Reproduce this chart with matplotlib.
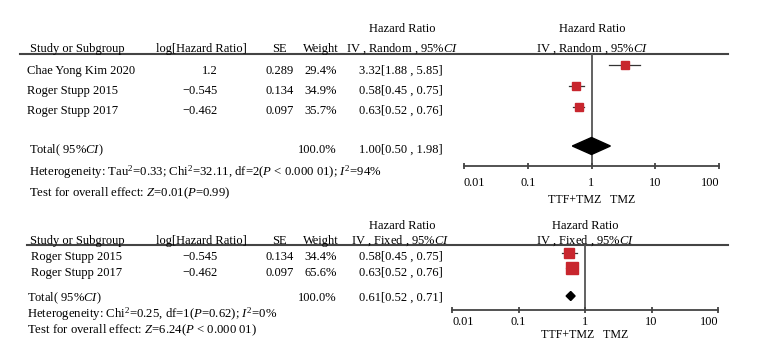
import matplotlib
matplotlib.use('Agg')
import matplotlib.pyplot as plt
import numpy as np

plt.rcParams.update({'font.family': 'Liberation Serif', 'font.size': 9,
                     'mathtext.fontset': 'custom',
                     'mathtext.rm': 'Liberation Serif',
                     'mathtext.it': 'Liberation Serif:italic',
                     'mathtext.bf': 'Liberation Serif:bold'})

# --- random effects meta-analysis (top) ---
rand_studies = ['Chae Yong Kim 2020', 'Roger Stupp 2015', 'Roger Stupp 2017']
rand_log_hr = [1.2, -0.545, -0.462]
rand_se = [0.289, 0.134, 0.097]
rand_weight = [29.4, 34.9, 35.7]
rand_hr = [3.32, 0.58, 0.63]
rand_lo = [1.88, 0.45, 0.52]
rand_hi = [5.85, 0.75, 0.76]
rand_total = [1.00, 0.50, 1.98]   # est, lo, hi
rand_het = 'Heterogeneity: Tau$^2$=0.33; Chi$^2$=32.11, df=2($P$ < 0.000 01); $I^2$=94%'
rand_test = 'Test for overall effect: $Z$=0.01($P$=0.99)'

# --- fixed effects meta-analysis (bottom) ---
fix_studies = ['Roger Stupp 2015', 'Roger Stupp 2017']
fix_log_hr = [-0.545, -0.462]
fix_se = [0.134, 0.097]
fix_weight = [34.4, 65.6]
fix_hr = [0.58, 0.63]
fix_lo = [0.45, 0.52]
fix_hi = [0.75, 0.76]
fix_total = [0.61, 0.52, 0.71]
fix_het = 'Heterogeneity: Chi$^2$=0.25, df=1($P$=0.62); $I^2$=0%'
fix_test = 'Test for overall effect: $Z$=6.24($P$ < 0.000 01)'

tick_vals = [0.01, 0.1, 1, 10, 100]
tick_labels = ['0.01', '0.1', '1', '10', '100']

W, H = 758, 348
RED = '#c8262e'
LINE = '#444444'

fig = plt.figure(figsize=(W / 100, H / 100), dpi=100)
# full-figure axes in pixel coords, used for the table text
tx = fig.add_axes([0, 0, 1, 1])
tx.set_xlim(0, W)
tx.set_ylim(H, 0)
tx.axis('off')


def fmt_ci(est, lo, hi):
    return f'{est:.2f}[{lo:.2f} , {hi:.2f}]'


def minus(v):
    return f'{v:g}'.replace('-', '\u2212')


def draw_panel(studies, log_hr, se, weight, hr, lo, hi, total, het, test, method,
               L):
    hs = 9  # header font size
    ci_head = f'IV , {method} , 95%$CI$'
    tx.text(402, L['hr_y'], 'Hazard Ratio', ha='center', va='center', fontsize=hs)
    tx.text(30, L['head_y'], 'Study or Subgroup', ha='left', va='center', fontsize=hs)
    tx.text(201, L['head_y'], 'log[Hazard Ratio]', ha='center', va='center', fontsize=hs)
    tx.text(279, L['head_y'], 'SE', ha='center', va='center', fontsize=hs)
    tx.text(321, L['head_y'], 'Weight', ha='center', va='center', fontsize=hs)
    tx.text(L['ci_head_x'], L['head_y'], ci_head, ha='center', va='center', fontsize=hs)
    tx.text(L['vx'], L['hr_y'], 'Hazard Ratio', ha='center', va='center', fontsize=hs)
    tx.text(L['vx'], L['head_y'], ci_head, ha='center', va='center', fontsize=hs)
    tx.plot([L['line_x0'], 728], [L['line_y'], L['line_y']], color=LINE, lw=1.5)

    # study rows
    for i, name in enumerate(studies):
        y = L['rows'][i]
        tx.text(L['name_x'], y, name, ha='left', va='center')
        tx.text(218, y, minus(log_hr[i]), ha='right', va='center')
        tx.text(294, y, f'{se[i]:.3f}', ha='right', va='center')
        tx.text(337, y, f'{weight[i]:.1f}%', ha='right', va='center')
        tx.text(443, y, fmt_ci(hr[i], lo[i], hi[i]), ha='right', va='center')

    tx.text(L['tot_x'], L['tot_y'], 'Total( 95%$CI$)', ha='left', va='center')
    tx.text(337, L['tot_y'], f'{sum(weight):.1f}%', ha='right', va='center')
    tx.text(443, L['tot_y'], fmt_ci(*total), ha='right', va='center')
    tx.text(L['tot_x'], L['het_y'], het, ha='left', va='center', fontsize=9.2)
    tx.text(L['tot_x'], L['test_y'], test, ha='left', va='center', fontsize=9.2)

    # forest plot axes, x on log scale, y in pixel rows
    x0, x1 = L['ax_x']
    y0, y1 = L['ax_y']
    ax = fig.add_axes([x0 / W, 1 - y1 / H, (x1 - x0) / W, (y1 - y0) / H])
    ax.patch.set_alpha(0)
    ax.set_xscale('log')
    ax.set_xlim(0.01, 100)
    ax.set_ylim(y1, y0)
    for s in ['top', 'left', 'right']:
        ax.spines[s].set_visible(False)
    ax.spines['bottom'].set_color(LINE)
    ax.spines['bottom'].set_linewidth(1.3)
    ax.set_yticks([])
    ax.set_xticks(tick_vals)
    ax.set_xticklabels(tick_labels, fontsize=8.8)
    ax.xaxis.set_minor_locator(matplotlib.ticker.NullLocator())
    ax.tick_params(axis='x', direction='inout', length=5, width=1.3, color=LINE,
                   pad=L['pad'])
    labs = ax.get_xticklabels()
    labs[0].set_ha('left')
    labs[-1].set_ha('right')
    ax.axvline(1, color='#555555', lw=1.3, zorder=1)

    for i in range(len(studies)):
        y = L['marks'][i]
        ax.plot([lo[i], hi[i]], [y, y], color='#333333', lw=0.9, zorder=2)
        ax.plot(hr[i], y, marker='s', color=RED, ms=L['msc'] * np.sqrt(weight[i]),
                lw=0, zorder=3)
    est, dlo, dhi = total
    yd, hd = L['dia_y'], L['dia_h']
    ax.fill([dlo, est, dhi, est], [yd, yd - hd, yd, yd + hd], color='black', zorder=3)

    tx.text(L['vx'], L['fav_y'], 'TTF+TMZ   TMZ', ha='center', va='center', fontsize=8.6)


top_layout = dict(hr_y=29, head_y=49, line_y=54, line_x0=20, ci_head_x=402,
                  rows=[71, 91, 111], marks=[65, 86, 107], name_x=27,
                  tot_x=29, tot_y=150, het_y=172, test_y=193,
                  ax_x=(464, 719), ax_y=(54, 166), vx=592, fav_y=200, pad=5.5,
                  dia_y=146, dia_h=8.5, msc=0.95)
bot_layout = dict(hr_y=226, head_y=241, line_y=245, line_x0=27, ci_head_x=400,
                  rows=[257, 273], marks=[253, 268], name_x=31,
                  tot_x=27, tot_y=298, het_y=314, test_y=330,
                  ax_x=(452, 718), ax_y=(245, 310), vx=585, fav_y=335.5, pad=1.5,
                  dia_y=296, dia_h=4.5, msc=1.15)

draw_panel(rand_studies, rand_log_hr, rand_se, rand_weight, rand_hr, rand_lo, rand_hi,
           rand_total, rand_het, rand_test, 'Random', top_layout)
draw_panel(fix_studies, fix_log_hr, fix_se, fix_weight, fix_hr, fix_lo, fix_hi,
           fix_total, fix_het, fix_test, 'Fixed', bot_layout)

fig.savefig('out.png', dpi=100)
